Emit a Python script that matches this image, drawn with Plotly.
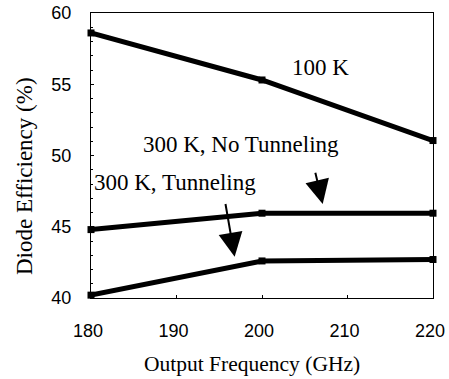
import plotly.graph_objects as go

freq = [180, 200, 220]
eff_100k = [58.6, 55.3, 51.05]
eff_300k_no_tunnel = [44.8, 45.95, 45.95]
eff_300k_tunnel = [40.2, 42.6, 42.7]

fig = go.Figure()

# three curves, same black style
for y in [eff_100k, eff_300k_no_tunnel, eff_300k_tunnel]:
    fig.add_trace(go.Scatter(x=freq, y=y, mode='lines+markers',
                             line=dict(color='black', width=5),
                             marker=dict(symbol='square', size=7, color='black'),
                             showlegend=False, cliponaxis=False))

serif = dict(family='Liberation Serif', size=23, color='black')

fig.add_annotation(x=206.8, y=56.2, text='100 K', showarrow=False, font=serif)
fig.add_annotation(x=197.5, y=50.8, text='300 K, No Tunneling', showarrow=False, font=serif)
fig.add_annotation(x=189.8, y=48.1, text='300 K, Tunneling', showarrow=False, font=serif)

# axis titles placed by hand (they sit off-centre in the original)
fig.add_annotation(x=0.471, y=-0.232, xref='paper', yref='paper', xanchor='center', yanchor='middle',
                   text='Output Frequency (GHz)', showarrow=False,
                   font=dict(family='Liberation Serif', size=21.5, color='black'))
fig.add_annotation(x=-0.196, y=0.428, xref='paper', yref='paper', xanchor='center', yanchor='middle',
                   text='Diode Efficiency (%)', textangle=-90, showarrow=False,
                   font=dict(family='Liberation Serif', size=23, color='black'))

# arrows pointing at the flat curves
fig.add_annotation(x=207.1, y=46.6, ax=206.2, ay=48.9, xref='x', yref='y', axref='x', ayref='y',
                   text='', showarrow=True, arrowhead=2, arrowsize=2.4, arrowwidth=2, arrowcolor='black')
fig.add_annotation(x=196.8, y=42.9, ax=195.7, ay=46.7, xref='x', yref='y', axref='x', ayref='y',
                   text='', showarrow=True, arrowhead=2, arrowsize=2.4, arrowwidth=2, arrowcolor='black')

fig.update_xaxes(range=[180, 220], tickvals=[180, 190, 200, 210, 220], automargin=False,
                 showline=True, linecolor='black', linewidth=1, mirror=True,
                 ticks='inside', ticklen=3, tickcolor='black', showgrid=False, zeroline=False,
                 ticklabelstandoff=16, ticklabelshift=-3, ticklabeloverflow='allow',
                 tickfont=dict(family='Liberation Sans', size=18, color='black'))
fig.update_yaxes(range=[40, 60], tickvals=[40, 45, 50, 55, 60], automargin=False,
                 showline=True, linecolor='black', linewidth=1, mirror=True,
                 ticks='inside', ticklen=3, tickcolor='black', showgrid=False, zeroline=False,
                 ticklabelstandoff=15, ticklabeloverflow='allow',
                 minor=dict(dtick=1, ticks='inside', ticklen=2, tickcolor='black'),
                 tickfont=dict(family='Liberation Sans', size=18, color='black'))

fig.update_layout(width=449, height=379, plot_bgcolor='white', paper_bgcolor='white',
                  margin=dict(l=91, r=16, t=13, b=81, autoexpand=False))

# drop the default body margin so the figure fills the window
fig.write_html("out.html", config={'displayModeBar': False},
               post_script="document.body.style.margin='0';")
